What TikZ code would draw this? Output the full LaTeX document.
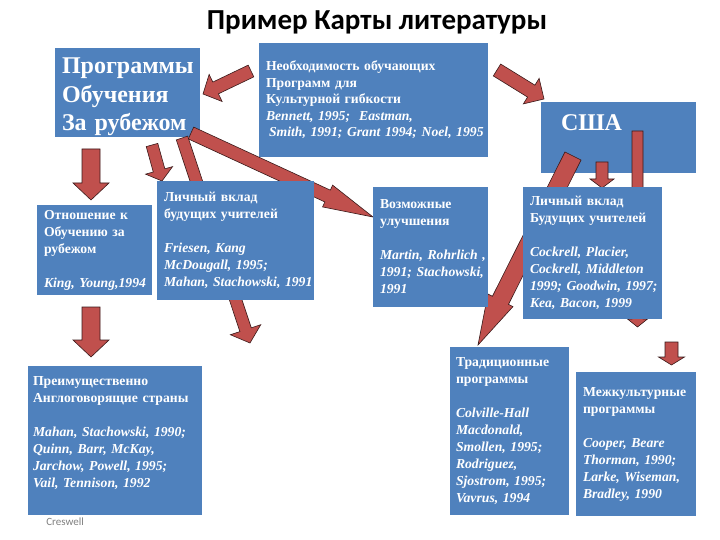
\documentclass[tikz,border=0pt]{standalone}
\usepackage{fontspec}
\setmainfont{Liberation Serif}
\newfontfamily\titlefont{Carlito}
\usepackage{tikz}
\usetikzlibrary{calc}

\definecolor{boxblue}{HTML}{4F81BD}
\definecolor{arrowred}{HTML}{C0504D}
\definecolor{arrowline}{HTML}{3A1A1A}
\hyphenpenalty=10000
\exhyphenpenalty=10000

% block arrow: tail, tip, shaft half width, head half width, head length
\newcommand{\blockarrow}[5]{%
  \coordinate (hb) at ($(#2)!#5!(#1)$);
  \draw[barrow] ($(#1)!#3!90:(#2)$) -- ($(hb)!#3!90:(#2)$) -- ($(hb)!#4!90:(#2)$)
    -- (#2) -- ($(hb)!#4!-90:(#2)$) -- ($(hb)!#3!-90:(#2)$) -- ($(#1)!#3!-90:(#2)$) -- cycle;
}

\begin{document}
\begin{tikzpicture}[
  x=1pt, y=-1pt,
  box/.style={fill=boxblue, text=white, anchor=north west, align=left,
    inner xsep=7pt, inner ysep=0pt, font=\bfseries\fontsize{13.7}{17}\selectfont},
  barrow/.style={fill=arrowred, draw=arrowline, line width=0.6pt, line join=miter},
  every node/.style={outer sep=0pt}
]
\useasboundingbox[fill=white] (0,0) rectangle (720,540);

% --- title
\node (title) at (377,22) {\titlefont\bfseries\fontsize{29}{32}\selectfont Пример Карты литературы};

% --- upper boxes
\node[box, text width=131pt, minimum height=89pt, font=\bfseries\fontsize{24}{28.5}\selectfont]
  (abroad) at (55,48) {\rule{0pt}{25pt}Программы\\Обучения\\За рубежом};
\node[box, text width=215pt, minimum height=114pt, font=\bfseries\fontsize{13.7}{16.5}\selectfont]
  (need) at (259,43) {Необходимость обучающих\\Программ для\\Культурной гибкости\\%
  \textit{Bennett, 1995;~ Eastman,}\\\hspace*{3pt}\textit{Smith,~1991;~Grant~1994;~Noel,~1995}};
\node[box, inner xsep=20pt, text width=115pt, minimum height=71pt, font=\bfseries\fontsize{24}{28}\selectfont]
  (usa) at (541,102) {США\rule[-30pt]{0pt}{30pt}};

% --- arrows
\coordinate (a1s) at (251,71);    \coordinate (a1e) at (203,94);
\coordinate (a2s) at (497,70);    \coordinate (a2e) at (544,99);
\coordinate (a3s) at (91,149);    \coordinate (a3e) at (91,200);
\coordinate (a4s) at (152,145);   \coordinate (a4e) at (162,181);
\coordinate (a5s) at (182,138);   \coordinate (a5e) at (250,343);
\coordinate (a6s) at (191,133);   \coordinate (a6e) at (373,217);
\coordinate (a7s) at (573,156);   \coordinate (a7e) at (478,345);
\coordinate (a8s) at (602,162);   \coordinate (a8e) at (602,188);
\coordinate (a9s) at (637.5,131); \coordinate (a9e) at (637.5,327);
\coordinate (a10s) at (671.5,342); \coordinate (a10e) at (671.5,365);
\coordinate (a11s) at (91,307);   \coordinate (a11e) at (91,357);

\blockarrow{a1s}{a1e}{6.5pt}{15pt}{14pt}
\blockarrow{a2s}{a2e}{7pt}{15pt}{15pt}
\blockarrow{a3s}{a3e}{9pt}{18pt}{17pt}
\blockarrow{a4s}{a4e}{6pt}{14pt}{11pt}
\blockarrow{a5s}{a5e}{6pt}{16pt}{14pt}
\blockarrow{a6s}{a6e}{6.5pt}{12pt}{50pt}
\blockarrow{a7s}{a7e}{9pt}{14pt}{50pt}
\blockarrow{a8s}{a8e}{6pt}{12pt}{9pt}
\blockarrow{a9s}{a9e}{5.5pt}{10pt}{8pt}
\blockarrow{a10s}{a10e}{6.5pt}{13pt}{8pt}
\blockarrow{a11s}{a11e}{9pt}{18pt}{17pt}

% --- middle boxes
\node[box, text width=101pt, minimum height=90pt] (attitude) at (37,205)
  {Отношение к\\Обучению за\\рубежом\\[17pt]\textit{King,~Young,1994}};
\node[box, text width=143pt, minimum height=119pt] (contribL) at (157,181)
  {Личный вклад\\будущих учителей\\[17pt]\textit{Friesen, Kang}\\\textit{McDougall, 1995;}\\\textit{Mahan,~Stachowski,~1991}};
\node[box, text width=101pt, minimum height=120pt] (improve) at (373,187)
  {Возможные\\улучшения\\[17pt]\textit{Martin,~Rohrlich~,}\\\textit{1991;~Stachowski,}\\\textit{1991}};
\node[box, text width=125pt, minimum height=132pt] (contribR) at (523,187)
  {Личный вклад\\Будущих учителей\\[17pt]\textit{Cockrell, Placier,}\\\textit{Cockrell,~Middleton}\\\textit{1999;~Goodwin,~1997;}\\\textit{Kea, Bacon, 1999}};

% --- lower boxes
\node[box, inner xsep=5pt, text width=164pt, minimum height=149pt] (english) at (28,366)
  {Преимущественно\\Англоговорящие страны\\[17pt]\textit{Mahan, Stachowski, 1990;}\\\textit{Quinn, Barr, McKay,}\\\textit{Jarchow, Powell, 1995;}\\\textit{Vail, Tennison, 1992}\rule[-17pt]{0pt}{17pt}};
\node[box, inner xsep=6pt, text width=107pt, minimum height=168pt] (traditional) at (450,347)
  {Традиционные\\программы\\[17pt]\textit{Colville-Hall}\\\textit{Macdonald,}\\\textit{Smollen, 1995;}\\\textit{Rodriguez,}\\\textit{Sjostrom, 1995;}\\\textit{Vavrus, 1994}};
\node[box, text width=106pt, minimum height=144pt] (intercult) at (576,372)
  {Межкультурные\\программы\\[17pt]\textit{Cooper, Beare}\\\textit{Thorman, 1990;}\\\textit{Larke,~Wiseman,}\\\textit{Bradley, 1990}};

\node[anchor=west, text=black!50, font=\titlefont\fontsize{11}{13}\selectfont] (src) at (43,522) {Creswell};

\end{tikzpicture}
\end{document}
